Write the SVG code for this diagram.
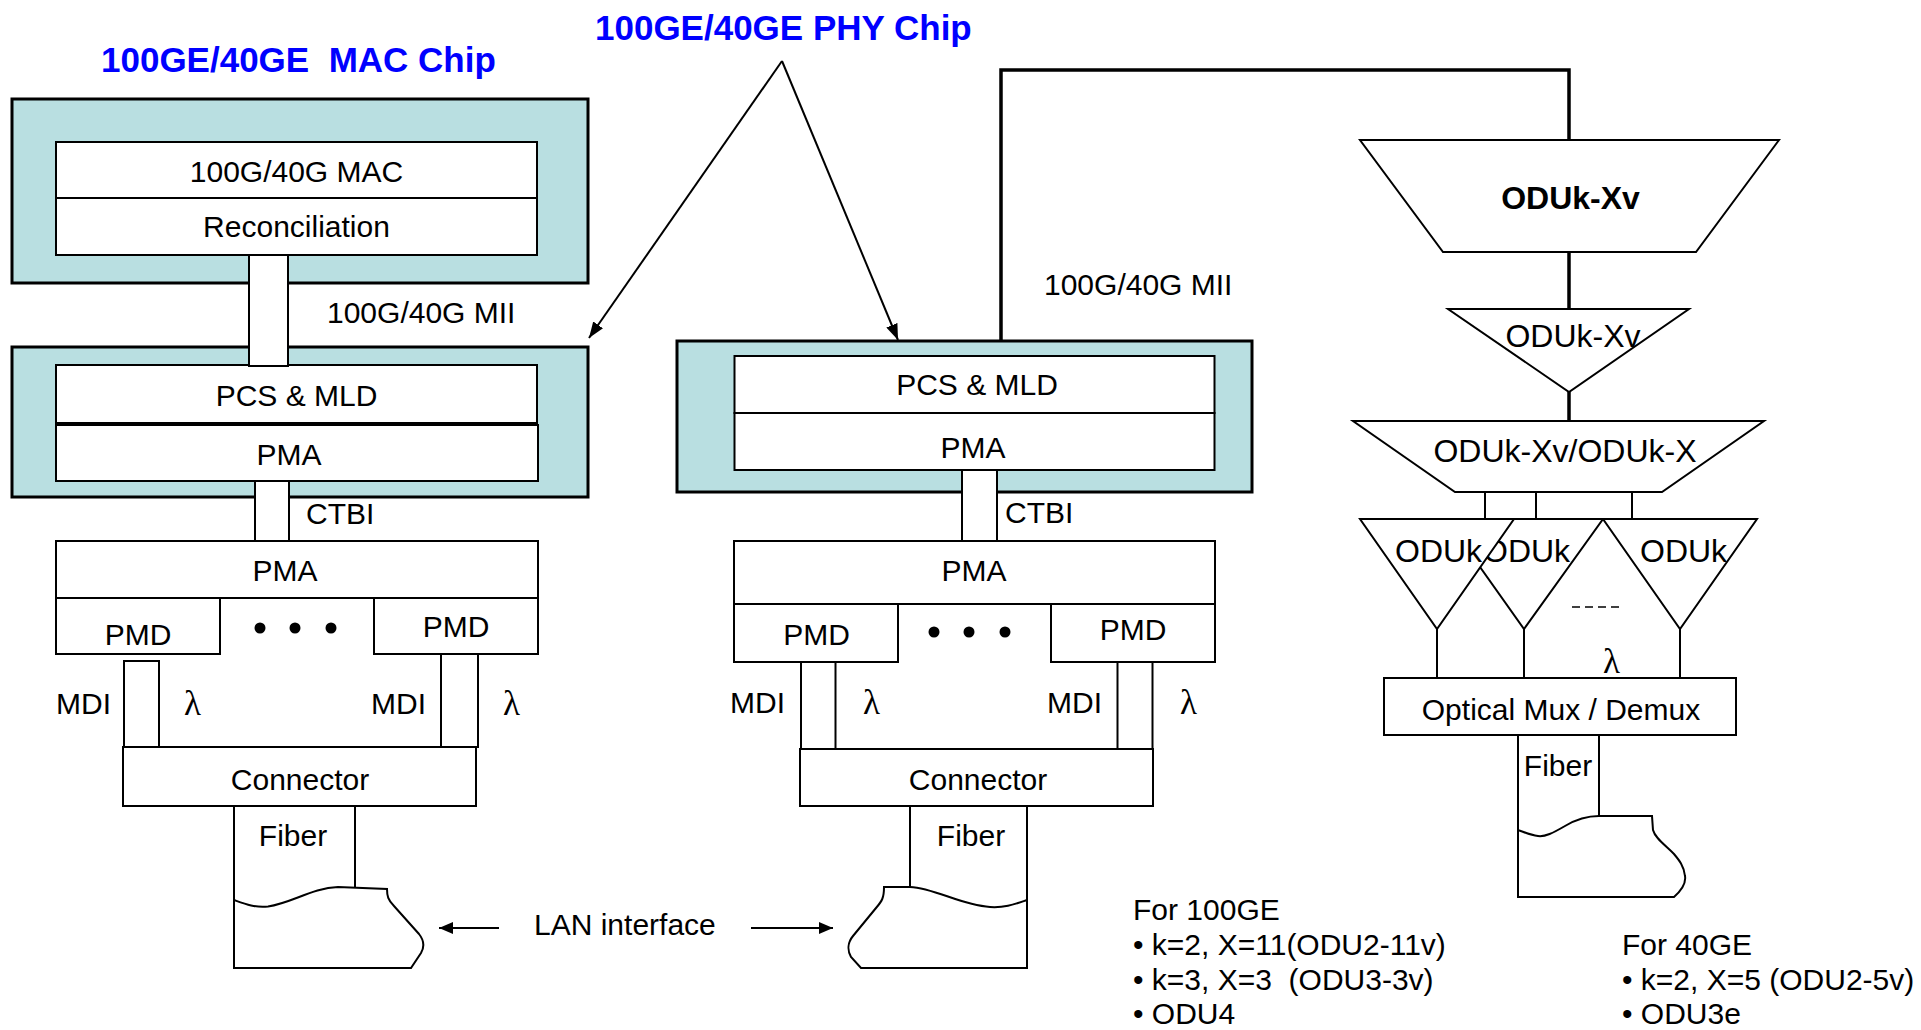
<svg xmlns="http://www.w3.org/2000/svg" width="1921" height="1030" viewBox="0 0 1921 1030">
<style>
.bg{fill:#fff}
.chip{fill:#B9DFE1;stroke:#000;stroke-width:3}
.box{fill:#fff;stroke:#000;stroke-width:2}
.ln{fill:none;stroke:#000;stroke-width:2}
.thk{fill:none;stroke:#000;stroke-width:3.5}
.t{font-family:"Liberation Sans",Arial,sans-serif;font-size:30px;fill:#000}
.c{text-anchor:middle}
.b32{font-size:32px}
.bold{font-weight:bold}
.title{font-family:"Liberation Sans",Arial,sans-serif;font-weight:bold;font-size:35px;fill:#0000FF}
.lam{font-family:"Liberation Serif","Times New Roman",serif;font-size:35px;fill:#000}
.dot{fill:#000}
</style>
<defs>
<marker id="ah" markerUnits="userSpaceOnUse" markerWidth="16" markerHeight="12" refX="16" refY="6" orient="auto">
<path d="M0,0 L16,6 L0,12 Z" fill="#000"/>
</marker>
<marker id="ah2" markerUnits="userSpaceOnUse" markerWidth="14" markerHeight="12" refX="14" refY="6" orient="auto">
<path d="M0,0 L14,6 L0,12 Z" fill="#000"/>
</marker>
</defs>
<rect class="bg" x="0" y="0" width="1921" height="1030"/>

<g id="titles">
<text class="title" x="101" y="72" xml:space="preserve">100GE/40GE  MAC Chip</text>
<text class="title" x="595" y="40">100GE/40GE PHY Chip</text>
</g>

<g id="connectors">
<path class="thk" d="M1001,360 L1001,70 L1569,70 L1569,140"/>
<line class="thk" x1="1569" y1="252" x2="1569" y2="309"/>
<line class="thk" x1="1569" y1="392" x2="1569" y2="421"/>
<line class="ln" x1="782" y1="61" x2="589" y2="338" marker-end="url(#ah)"/>
<line class="ln" x1="782" y1="61" x2="898" y2="340" marker-end="url(#ah)"/>
<line class="ln" x1="499" y1="928" x2="439" y2="928" marker-end="url(#ah2)"/>
<line class="ln" x1="751" y1="928" x2="833" y2="928" marker-end="url(#ah2)"/>
<line class="ln" x1="1485" y1="492" x2="1485" y2="519"/>
<line class="ln" x1="1536" y1="492" x2="1536" y2="519"/>
<line class="ln" x1="1632" y1="492" x2="1632" y2="519"/>
<line class="ln" x1="1437" y1="629" x2="1437" y2="678"/>
<line class="ln" x1="1524" y1="629" x2="1524" y2="678"/>
<line class="ln" x1="1680" y1="629" x2="1680" y2="678"/>
</g>

<g id="mac-chip">
<rect class="chip" x="12" y="99" width="576" height="184"/>
<rect class="box" x="56" y="142" width="481" height="56"/>
<text class="t c" x="296.5" y="182">100G/40G MAC</text>
<rect class="box" x="56" y="198" width="481" height="57"/>
<text class="t c" x="296.5" y="237">Reconciliation</text>
</g>

<g id="phy-left">
<rect class="chip" x="12" y="347" width="576" height="150"/>
<rect class="box" x="56" y="365" width="481" height="58"/>
<text class="t c" x="296.5" y="406">PCS &amp; MLD</text>
<rect class="box" x="56" y="425" width="482" height="56"/>
<text class="t c" x="289" y="465">PMA</text>
</g>

<g id="mii-left">
<rect class="box" x="249" y="255" width="39" height="111"/>
<text class="t" x="327" y="323">100G/40G MII</text>
</g>

<g id="ctbi-left">
<rect class="box" x="255" y="481" width="34" height="60"/>
<text class="t" x="306" y="524">CTBI</text>
</g>

<g id="pma-left">
<rect class="box" x="56" y="541" width="482" height="57"/>
<text class="t c" x="285" y="581">PMA</text>
</g>
<g id="pmd-left-1">
<rect class="box" x="56" y="598" width="164" height="56"/>
<text class="t c" x="138" y="645">PMD</text>
</g>
<g id="pmd-left-2">
<rect class="box" x="374" y="598" width="164" height="56"/>
<text class="t c" x="456" y="637">PMD</text>
</g>
<g id="dots-left">
<circle class="dot" cx="260" cy="628" r="5.5"/>
<circle class="dot" cx="295" cy="628" r="5.5"/>
<circle class="dot" cx="331" cy="628" r="5.5"/>
</g>
<g id="mdi-left-1">
<rect class="box" x="124" y="661" width="35" height="86"/>
<text class="t" x="56" y="714">MDI</text>
<text class="lam" x="184" y="715">λ</text>
</g>
<g id="mdi-left-2">
<rect class="box" x="441" y="654" width="37" height="93"/>
<text class="t" x="371" y="714">MDI</text>
<text class="lam" x="503" y="715">λ</text>
</g>
<g id="connector-left">
<rect class="box" x="123" y="747" width="353" height="59"/>
<text class="t c" x="300" y="790">Connector</text>
</g>
<g id="fiber-left">
<path class="box" d="M234,806 L234,968 L411,968 L421,953 C425,946 423,939 419,934 L394,906 C388,900 387,896 387,889 L338,887 C312,888 292,903 268,906.5 C255,908 245,904 234,900"/>
<line class="ln" x1="355" y1="806" x2="355" y2="887"/>
<text class="t c" x="293" y="846">Fiber</text>
</g>

<g id="lan-interface">
<text class="t" x="534" y="935">LAN interface</text>
</g>

<g id="phy-mid">
<rect class="chip" x="677" y="341" width="575" height="151"/>
<rect class="box" x="734.5" y="356" width="480" height="57"/>
<text class="t c" x="977" y="395">PCS &amp; MLD</text>
<rect class="box" x="734.5" y="413" width="480" height="57"/>
<text class="t c" x="973" y="458">PMA</text>
</g>
<g id="mii-mid">
<text class="t" x="1044" y="295">100G/40G MII</text>
</g>
<g id="ctbi-mid">
<rect class="box" x="962" y="470" width="35" height="71"/>
<text class="t" x="1005" y="523">CTBI</text>
</g>
<g id="pma-mid">
<rect class="box" x="734" y="541" width="481" height="63"/>
<text class="t c" x="974" y="581">PMA</text>
</g>
<g id="pmd-mid-1">
<rect class="box" x="734" y="604" width="164" height="58"/>
<text class="t c" x="816.5" y="645">PMD</text>
</g>
<g id="pmd-mid-2">
<rect class="box" x="1051" y="604" width="164" height="58"/>
<text class="t c" x="1133" y="640">PMD</text>
</g>
<g id="dots-mid">
<circle class="dot" cx="934" cy="632" r="5.5"/>
<circle class="dot" cx="969" cy="632" r="5.5"/>
<circle class="dot" cx="1005" cy="632" r="5.5"/>
</g>
<g id="mdi-mid-1">
<rect class="box" x="801" y="662" width="34.5" height="87"/>
<text class="t" x="730" y="713">MDI</text>
<text class="lam" x="863" y="714">λ</text>
</g>
<g id="mdi-mid-2">
<rect class="box" x="1117.5" y="662" width="35" height="87"/>
<text class="t" x="1047" y="713">MDI</text>
<text class="lam" x="1180" y="714">λ</text>
</g>
<g id="connector-mid">
<rect class="box" x="800" y="749" width="353" height="57"/>
<text class="t c" x="978" y="790">Connector</text>
</g>
<g id="fiber-mid">
<path class="box" d="M1027,806 L1027,968 L861,968 L851,957 C847,950 848,942 853,936 L876,908 C882,901 884,898 884,887 L910,887 C935,888 960,905 990,907 C1005,908 1015,904 1027,900"/>
<line class="ln" x1="910" y1="806" x2="910" y2="887"/>
<text class="t c" x="971" y="846">Fiber</text>
</g>

<g id="oduk-xv-top">
<polygon class="box" points="1360,140 1779,140 1696,252 1443,252"/>
<text class="t b32 bold c" x="1570.5" y="209">ODUk-Xv</text>
</g>
<g id="oduk-xv">
<polygon class="box" points="1448,309 1689,309 1569,392"/>
<text class="t b32 c" x="1573" y="347">ODUk-Xv</text>
</g>
<g id="oduk-xv-x">
<polygon class="box" points="1353,421 1764,421 1662,492 1455,492"/>
<text class="t b32 c" x="1565" y="462">ODUk-Xv/ODUk-X</text>
</g>
<g id="oduk-2">
<polygon class="box" points="1446,519 1603,519 1524,629"/>
<text class="t b32" x="1483" y="562">ODUk</text>
</g>
<g id="oduk-1">
<polygon class="box" points="1360,519 1514,519 1437,629"/>
<text class="t b32" x="1395" y="562">ODUk</text>
</g>
<g id="oduk-3">
<polygon class="box" points="1603,519 1757,519 1680,629"/>
<text class="t b32" x="1640" y="562">ODUk</text>
</g>
<g id="dashes">
<line x1="1572" y1="607" x2="1620" y2="607" stroke="#000" stroke-width="1.5" stroke-dasharray="8,5"/>
</g>
<g id="lambda-right">
<text class="lam" x="1603" y="673">λ</text>
</g>
<g id="optical-mux">
<rect class="box" x="1384" y="678" width="352" height="57"/>
<text class="t c" x="1561" y="720">Optical Mux / Demux</text>
</g>
<g id="fiber-right">
<path class="box" d="M1518,735 L1518,897 L1674,897 C1683,889 1686,882 1685,876 C1684,866 1679,860 1674,854 C1665,845 1655,838 1653,830 L1652,816 L1599,816 C1585,816 1575,820 1565,826 C1553,833 1545,837 1538,836 C1530,835 1524,832 1518,830"/>
<line class="ln" x1="1599" y1="735" x2="1599" y2="816"/>
<text class="t c" x="1558" y="776">Fiber</text>
</g>

<g id="notes-100ge">
<text class="t" x="1133" y="920">For 100GE</text>
<text class="t" x="1133" y="955">• k=2, X=11(ODU2-11v)</text>
<text class="t" x="1133" y="990" xml:space="preserve">• k=3, X=3  (ODU3-3v)</text>
<text class="t" x="1133" y="1024">• ODU4</text>
</g>
<g id="notes-40ge">
<text class="t" x="1622" y="955">For 40GE</text>
<text class="t" x="1622" y="990">• k=2, X=5 (ODU2-5v)</text>
<text class="t" x="1622" y="1024">• ODU3e</text>
</g>
</svg>
